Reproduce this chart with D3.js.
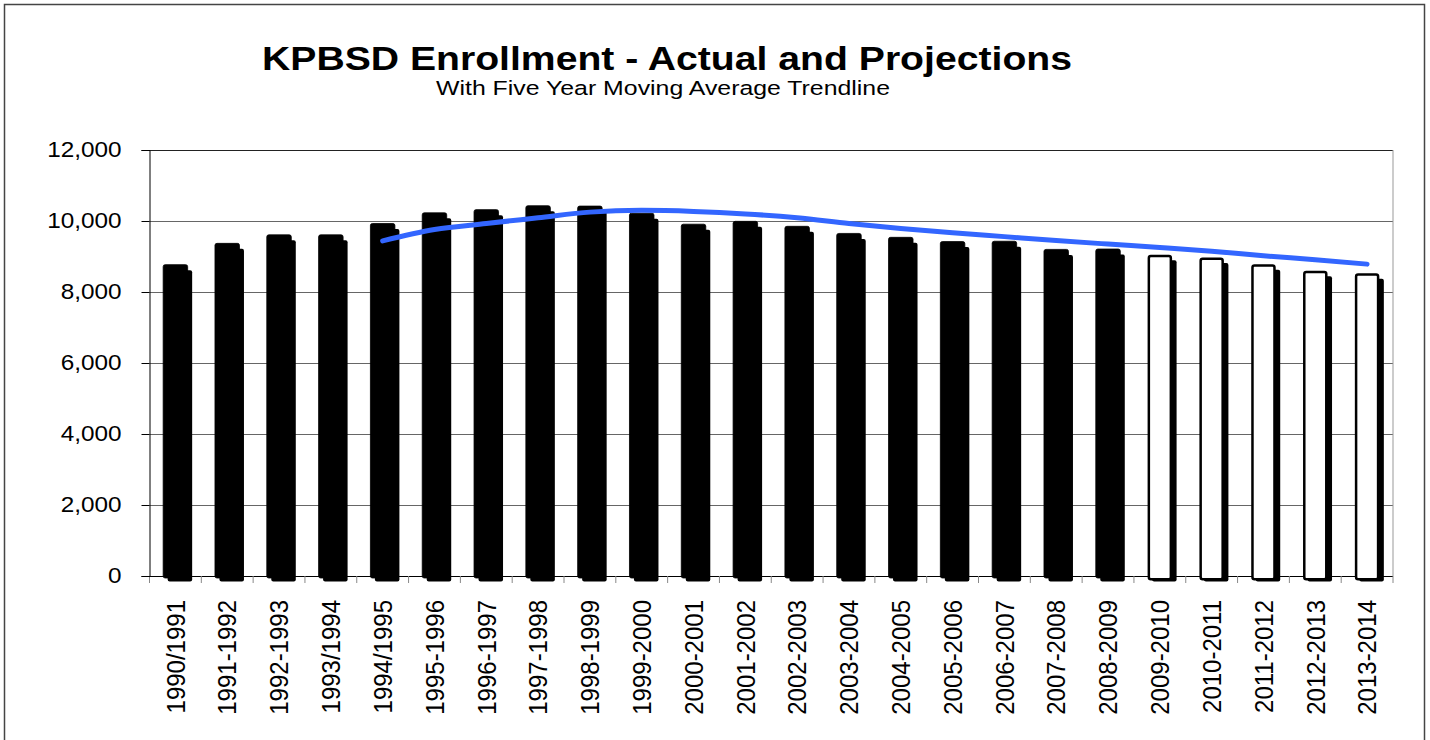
<!DOCTYPE html>
<html>
<head>
<meta charset="utf-8">
<script src="https://d3js.org/d3.v7.min.js"></script>
<style>
  body { margin: 0; background: #fff; }
  text { font-family: "Liberation Sans", Arial, sans-serif; fill: #000; }
</style>
</head>
<body>
<div id="chart"></div>
<script>
// school years on the x axis
const categories = ["1990/1991", "1991-1992", "1992-1993", "1993/1994", "1994/1995",
  "1995-1996", "1996-1997", "1997-1998", "1998-1999", "1999-2000", "2000-2001",
  "2001-2002", "2002-2003", "2003-2004", "2004-2005", "2005-2006", "2006-2007",
  "2007-2008", "2008-2009", "2009-2010", "2010-2011", "2011-2012", "2012-2013", "2013-2014"];

// actual enrollment (1990/1991 .. 2008-2009)
const actual = [8770, 9370, 9610, 9610, 9930, 10230, 10320, 10430, 10420, 10220,
  9910, 9990, 9850, 9650, 9540, 9420, 9430, 9200, 9210];

// projections (2009-2010 .. 2013-2014)
const projected = [9050, 8970, 8780, 8600, 8530];

// five year moving average, starts at 1994/1995
const trendStart = 4;
const trend = [9440, 9760, 9930, 10090, 10250, 10300, 10270, 10200, 10090, 9930,
  9790, 9670, 9560, 9450, 9350, 9255, 9150, 9020, 8910, 8785];

const yTicks = [0, 2000, 4000, 6000, 8000, 10000, 12000];

const bars = categories.map(function(c, i) {
  return i < actual.length
    ? {cat: c, value: actual[i], proj: false}
    : {cat: c, value: projected[i - actual.length], proj: true};
});

// set the dimensions and margins of the graph
const W = 1430, H = 740;
const margin = {top: 150, right: 37, bottom: 164, left: 149.5},
    width = W - margin.left - margin.right,
    height = H - margin.top - margin.bottom;

const root = d3.select("#chart").append("svg")
    .attr("width", W)
    .attr("height", H);

// chart border
root.append("rect")
    .attr("x", 4.5).attr("y", 4.5)
    .attr("width", 1420).attr("height", 800)
    .attr("fill", "none")
    .attr("stroke", "#444")
    .attr("stroke-width", 1.5);

// titles
root.append("text")
    .attr("x", 262).attr("y", 69.5)
    .attr("font-size", 34)
    .attr("font-weight", "bold")
    .attr("textLength", 810)
    .attr("lengthAdjust", "spacingAndGlyphs")
    .text("KPBSD Enrollment - Actual and Projections");

root.append("text")
    .attr("x", 436).attr("y", 95)
    .attr("font-size", 20.5)
    .attr("textLength", 454)
    .attr("lengthAdjust", "spacingAndGlyphs")
    .text("With Five Year Moving Average Trendline");

const svg = root.append("g")
    .attr("transform", "translate(" + margin.left + "," + margin.top + ")");

const x = d3.scaleBand()
    .domain(categories)
    .range([0, width])
    .padding(0);

const y = d3.scaleLinear()
    .domain([0, 12000])
    .range([height, 0]);

// gridlines
svg.append("g")
    .selectAll("line")
    .data(yTicks.filter(d => d > 0))
    .enter().append("line")
    .attr("x1", 0).attr("x2", width)
    .attr("y1", d => Math.round(y(d)) + 0.5)
    .attr("y2", d => Math.round(y(d)) + 0.5)
    .attr("stroke", d => d === 12000 ? "#222" : "#666")
    .attr("stroke-width", 1.2);

// right edge of plot area
svg.append("line")
    .attr("x1", width).attr("x2", width)
    .attr("y1", 0).attr("y2", height)
    .attr("stroke", "#999");

// x axis: ticks on band edges, labels rotated
const xAxis = svg.append("g").attr("transform", "translate(0," + height + ")");
xAxis.append("line")
    .attr("x1", 0).attr("x2", width)
    .attr("y1", 0.5).attr("y2", 0.5)
    .attr("stroke", "#000");
xAxis.selectAll(".xtick")
    .data(categories.concat(["end"]))
    .enter().append("line")
    .attr("class", "xtick")
    .attr("x1", (d, i) => i < categories.length ? x(d) : width)
    .attr("x2", (d, i) => i < categories.length ? x(d) : width)
    .attr("y1", 0).attr("y2", 7)
    .attr("stroke", "#888");
xAxis.selectAll(".xlabel")
    .data(categories)
    .enter().append("text")
    .attr("class", "xlabel")
    .attr("transform", d => "translate(" + (x(d) + x.bandwidth() / 2) + ",24) scale(1.1,1) rotate(-90)")
    .attr("text-anchor", "end")
    .attr("dy", "0.35em")
    .attr("font-size", 24)
    .text(d => d);

// y axis
const yAxis = svg.append("g")
    .call(d3.axisLeft(y).tickValues(yTicks).tickSize(8).tickPadding(20).tickFormat(d3.format(",")));
yAxis.select(".domain").attr("stroke", "#000");
yAxis.selectAll(".tick line").attr("stroke", "#000");
yAxis.selectAll(".tick text")
    .attr("font-size", 21.5)
    .attr("font-family", "Liberation Sans, Arial, sans-serif")
    .attr("fill", "#000")
    .each(function() {
      const w = this.getComputedTextLength();
      d3.select(this).attr("textLength", w * 1.13).attr("lengthAdjust", "spacingAndGlyphs");
    });

// bars with drop shadow
const barW = 24.5;
const bx = d => x(d.cat) + (x.bandwidth() - barW) / 2;

svg.append("g")
    .selectAll("rect")
    .data(bars)
    .enter().append("rect")
    .attr("x", d => bx(d) + 4.5)
    .attr("y", d => y(d.value) + 5.5)
    .attr("width", barW)
    .attr("height", d => height - y(d.value))
    .attr("rx", 2)
    .attr("fill", "#000");

svg.append("g")
    .selectAll("rect")
    .data(bars)
    .enter().append("rect")
    .attr("x", d => d.proj ? bx(d) + 1.25 : bx(d))
    .attr("y", d => d.proj ? y(d.value) + 1.25 : y(d.value))
    .attr("width", d => d.proj ? barW - 2.5 : barW)
    .attr("height", d => height - y(d.value) + 2)
    .attr("rx", 2)
    .attr("fill", d => d.proj ? "#fff" : "#000")
    .attr("stroke", "#000")
    .attr("stroke-width", d => d.proj ? 2.5 : 0.8);

// moving average trendline
const line = d3.line()
    .x((d, i) => x(categories[i + trendStart]) + x.bandwidth() / 2)
    .y(d => y(d))
    .curve(d3.curveMonotoneX);

svg.append("path")
    .datum(trend)
    .attr("d", line)
    .attr("fill", "none")
    .attr("stroke", "#3366ff")
    .attr("stroke-width", 5)
    .attr("stroke-linecap", "round")
    .attr("stroke-linejoin", "round");
</script>
</body>
</html>
